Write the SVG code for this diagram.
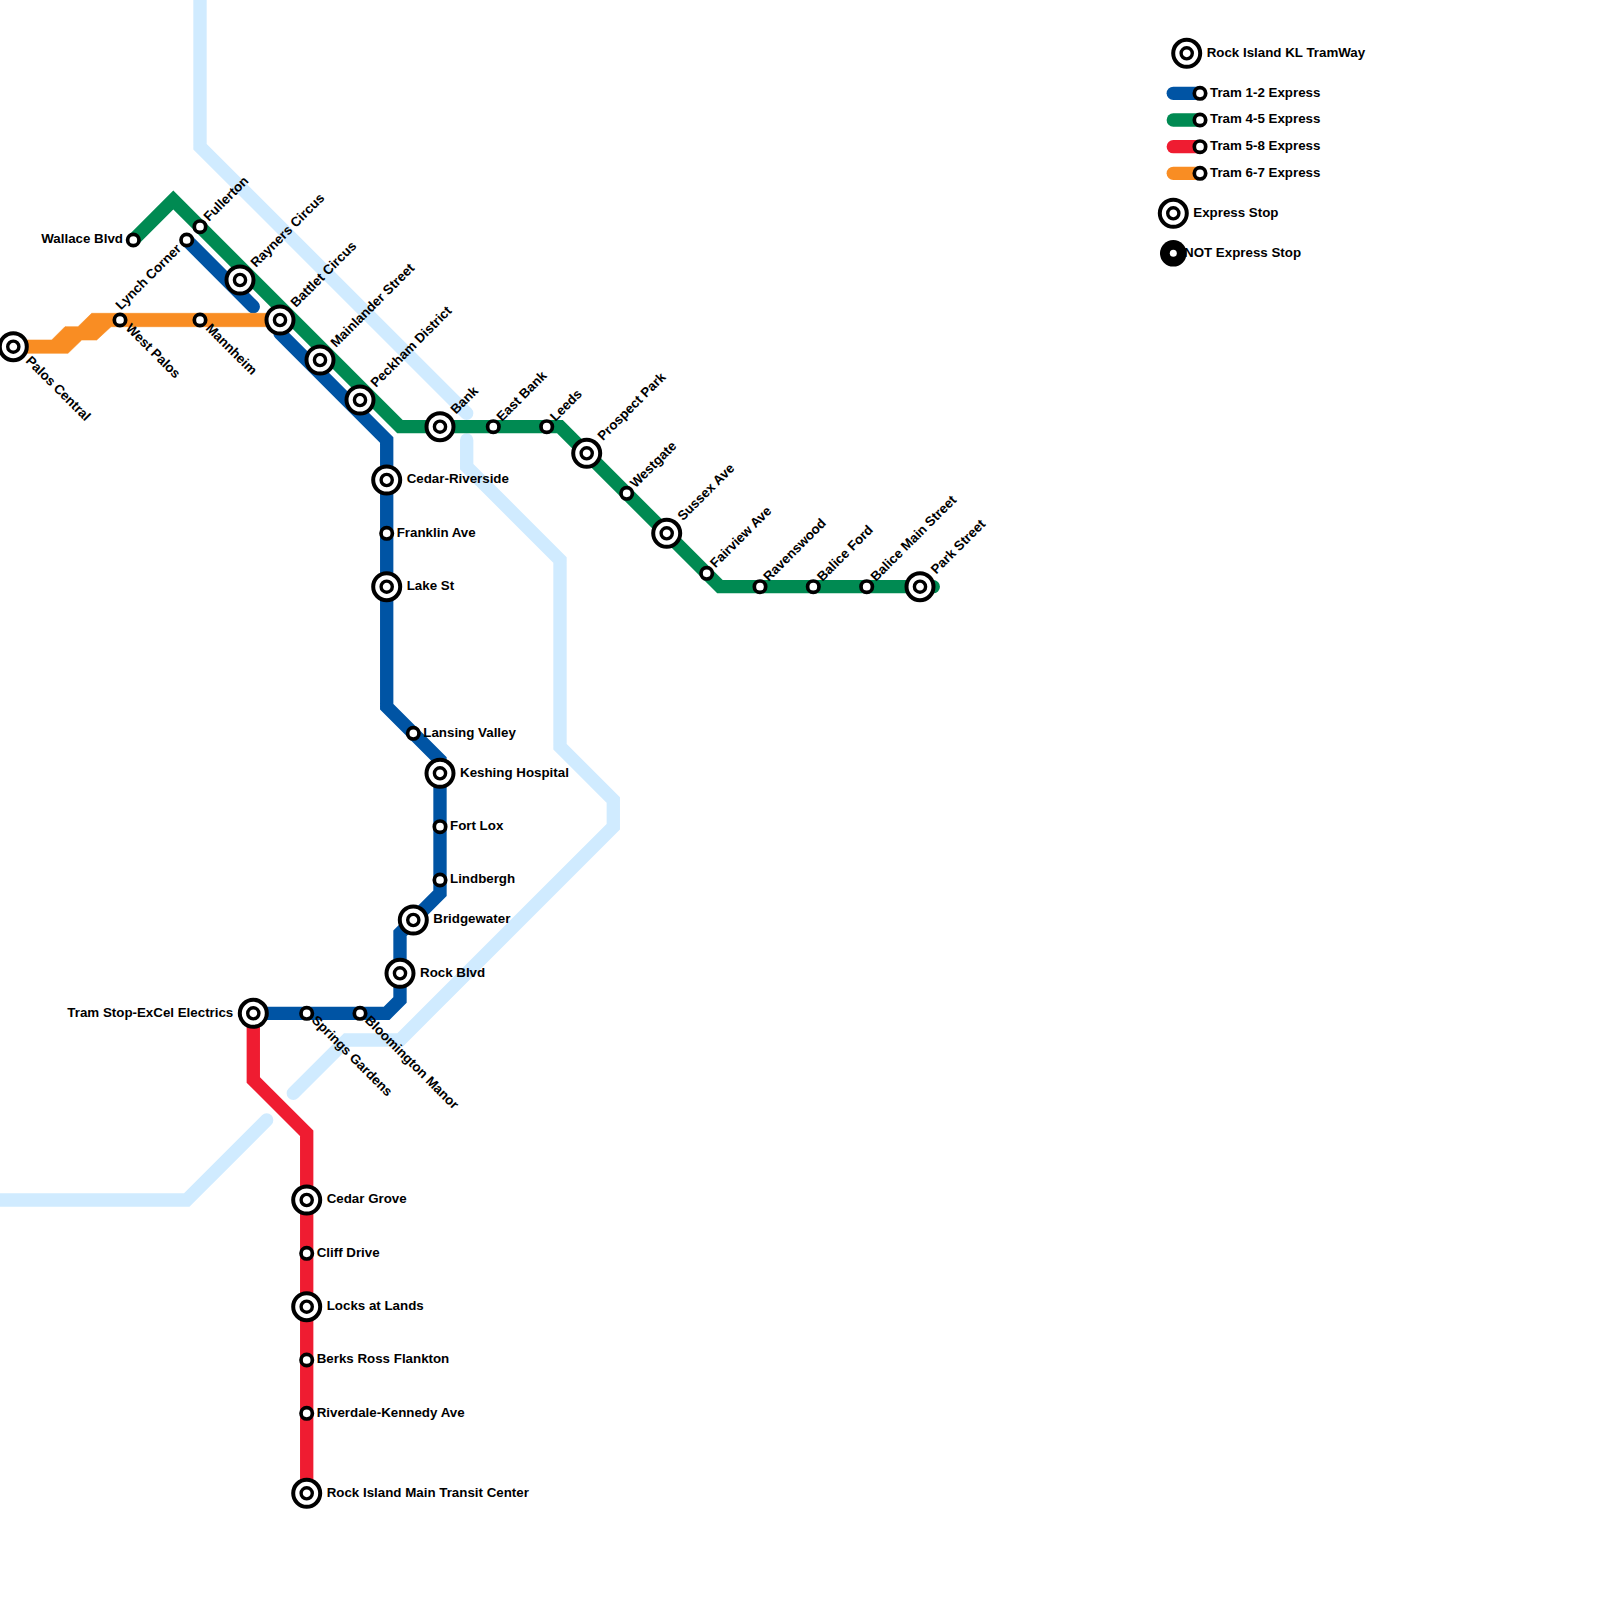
<svg xmlns="http://www.w3.org/2000/svg" width="1600" height="1600" viewBox="0 0 1600 1600">
<style>
text{font-family:"Liberation Sans",Arial,sans-serif;font-weight:700;font-size:13.33px;fill:#000}
.e{text-anchor:end}
.l{fill:none;stroke-width:13.33;stroke-linecap:round;stroke-linejoin:miter}
.w{stroke:#d0ebff}.b{stroke:#0054a4}.g{stroke:#008a52}.r{stroke:#ef1c31}.o{stroke:#f98d23}
.of{fill:#f98d23;stroke:#f98d23;stroke-width:.6}
.ro{fill:#fff;stroke:#000;stroke-width:3.7}
.bo{fill:#fff;stroke:#000;stroke-width:4}
.bi{fill:#fff;stroke:#000;stroke-width:3.4}
</style>
<defs>
<g id="big"><circle r="13.5" class="bo"/><circle r="5.6" class="bi"/></g>
<g id="small"><circle r="5.7" class="ro"/></g>
</defs>
<rect width="1600" height="1600" fill="#fff"/>
<g id="connectors">
<path class="l w" d="M200 -10V146.700L466.700 413.300"/>
<path class="l w" d="M466.700 440V466.700L560 560V746.700L613.300 800V826.700L400 1040H346.700L293.300 1093.300"/>
<path class="l w" d="M-10 1200H186.700L266.700 1120"/>
<path class="l g" d="M133.300 240L173.300 200L400 426.700H560L720 586.700H933.300"/>
<path class="l b" d="M186.700 240L253.300 306.700"/>
<path class="l b" d="M280 333.300L386.700 440V706.700L440 760V893.300L413.300 920L400 933.300V1000L386.700 1013.300H253.300"/>
<path class="l r" d="M253.300 1013.300V1080L306.700 1133.300V1493.300"/>
<path class="of" d="M13.300 340H51.700L65 326.700H78L91.700 313.300H280V326.700H111L96.700 340H81.700L68 353.300H13.300Z"/>
</g>
<g id="palos-central"><use href="#big" x="13.3" y="346.7"/><text transform="translate(25 361.500) rotate(45)">Palos Central</text></g>
<g id="west-palos"><use href="#small" x="120" y="320"/><text transform="translate(125 329) rotate(45)">West Palos</text></g>
<g id="mannheim"><use href="#small" x="200" y="320"/><text transform="translate(205 329) rotate(45)">Mannheim</text></g>
<g id="wallace-blvd"><use href="#small" x="133.300" y="240"/><text class="e" x="123" y="242.700">Wallace Blvd</text></g>
<g id="lynch-corner"><use href="#small" x="186.700" y="240"/><text transform="translate(121 310.500) rotate(-45)">Lynch Corner</text></g>
<g id="fullerton"><use href="#small" x="200" y="226.700"/><text transform="translate(209 222) rotate(-45)">Fullerton</text></g>
<g id="rayners-circus"><use href="#big" x="240" y="280"/><text transform="translate(256 268) rotate(-45)">Rayners Circus</text></g>
<g id="battlet-circus"><use href="#big" x="280" y="320"/><text transform="translate(296 308) rotate(-45)">Battlet Circus</text></g>
<g id="mainlander-street"><use href="#big" x="320" y="360"/><text transform="translate(336 348) rotate(-45)">Mainlander Street</text></g>
<g id="peckham-district"><use href="#big" x="360" y="400"/><text transform="translate(376 388) rotate(-45)">Peckham District</text></g>
<g id="bank"><use href="#big" x="440" y="426.700"/><text transform="translate(456 414.700) rotate(-45)">Bank</text></g>
<g id="east-bank"><use href="#small" x="493.300" y="426.700"/><text transform="translate(502 422) rotate(-45)">East Bank</text></g>
<g id="leeds"><use href="#small" x="546.700" y="426.700"/><text transform="translate(555.400 422) rotate(-45)">Leeds</text></g>
<g id="prospect-park"><use href="#big" x="586.700" y="453.300"/><text transform="translate(603 441.300) rotate(-45)">Prospect Park</text></g>
<g id="westgate"><use href="#small" x="626.700" y="493.300"/><text transform="translate(635.400 488.600) rotate(-45)">Westgate</text></g>
<g id="sussex-ave"><use href="#big" x="666.700" y="533.300"/><text transform="translate(683 521.300) rotate(-45)">Sussex Ave</text></g>
<g id="fairview-ave"><use href="#small" x="706.700" y="573.300"/><text transform="translate(715.400 568.600) rotate(-45)">Fairview Ave</text></g>
<g id="ravenswood"><use href="#small" x="760" y="586.700"/><text transform="translate(768.700 582) rotate(-45)">Ravenswood</text></g>
<g id="balice-ford"><use href="#small" x="813.300" y="586.700"/><text transform="translate(822.500 582) rotate(-45)">Balice Ford</text></g>
<g id="balice-main-street"><use href="#small" x="866.700" y="586.700"/><text transform="translate(875.900 582) rotate(-45)">Balice Main Street</text></g>
<g id="park-street"><use href="#big" x="920" y="586.700"/><text transform="translate(936.300 574.700) rotate(-45)">Park Street</text></g>
<g id="cedar-riverside"><use href="#big" x="386.700" y="480"/><text x="406.700" y="483.300">Cedar-Riverside</text></g>
<g id="franklin-ave"><use href="#small" x="386.700" y="533.300"/><text x="396.700" y="537">Franklin Ave</text></g>
<g id="lake-st"><use href="#big" x="386.700" y="586.700"/><text x="406.700" y="590">Lake St</text></g>
<g id="lansing-valley"><use href="#small" x="413.300" y="733.300"/><text x="423.300" y="736.800">Lansing Valley</text></g>
<g id="keshing-hospital"><use href="#big" x="440" y="773.300"/><text x="460" y="777">Keshing Hospital</text></g>
<g id="fort-lox"><use href="#small" x="440" y="826.700"/><text x="450" y="830">Fort Lox</text></g>
<g id="lindbergh"><use href="#small" x="440" y="880"/><text x="450" y="883.300">Lindbergh</text></g>
<g id="bridgewater"><use href="#big" x="413.300" y="920"/><text x="433.300" y="923.300">Bridgewater</text></g>
<g id="rock-blvd"><use href="#big" x="400" y="973.300"/><text x="420" y="977">Rock Blvd</text></g>
<g id="tram-stop-excel"><use href="#big" x="253.300" y="1013.300"/><text class="e" x="233.300" y="1017">Tram Stop-ExCel Electrics</text></g>
<g id="springs-gardens"><use href="#small" x="306.700" y="1013.300"/><text transform="translate(311 1021) rotate(45)">Springs Gardens</text></g>
<g id="bloomington-manor"><use href="#small" x="360" y="1013.300"/><text transform="translate(364.300 1021) rotate(45)">Bloomington Manor</text></g>
<g id="cedar-grove"><use href="#big" x="306.700" y="1200"/><text x="326.700" y="1203.300">Cedar Grove</text></g>
<g id="cliff-drive"><use href="#small" x="306.700" y="1253.300"/><text x="316.700" y="1256.800">Cliff Drive</text></g>
<g id="locks-at-lands"><use href="#big" x="306.700" y="1306.700"/><text x="326.700" y="1310">Locks at Lands</text></g>
<g id="berks-ross-flankton"><use href="#small" x="306.700" y="1360"/><text x="316.700" y="1363.300">Berks Ross Flankton</text></g>
<g id="riverdale-kennedy"><use href="#small" x="306.700" y="1413.300"/><text x="316.700" y="1416.800">Riverdale-Kennedy Ave</text></g>
<g id="rock-island-main"><use href="#big" x="306.700" y="1493.300"/><text x="326.700" y="1496.800">Rock Island Main Transit Center</text></g>
<g id="legend">
<use href="#big" x="1186.700" y="53.300"/><text x="1206.700" y="56.500">Rock Island KL TramWay</text>
<path class="l b" d="M1173.300 93.300H1200"/><use href="#small" x="1200" y="93.300"/><text x="1210" y="96.800">Tram 1-2 Express</text>
<path class="l g" d="M1173.300 120H1200"/><use href="#small" x="1200" y="120"/><text x="1210" y="123.300">Tram 4-5 Express</text>
<path class="l r" d="M1173.300 146.700H1200"/><use href="#small" x="1200" y="146.700"/><text x="1210" y="150.200">Tram 5-8 Express</text>
<path class="l o" d="M1173.300 173.300H1200"/><use href="#small" x="1200" y="173.300"/><text x="1210" y="176.500">Tram 6-7 Express</text>
<use href="#big" x="1173.300" y="213.300"/><text x="1193.300" y="216.500">Express Stop</text>
<circle cx="1173.300" cy="253.300" r="13.300" fill="#000"/><circle cx="1173.300" cy="253.300" r="3.500" fill="#fff"/><text x="1184" y="256.500">NOT Express Stop</text>
</g>
</svg>
